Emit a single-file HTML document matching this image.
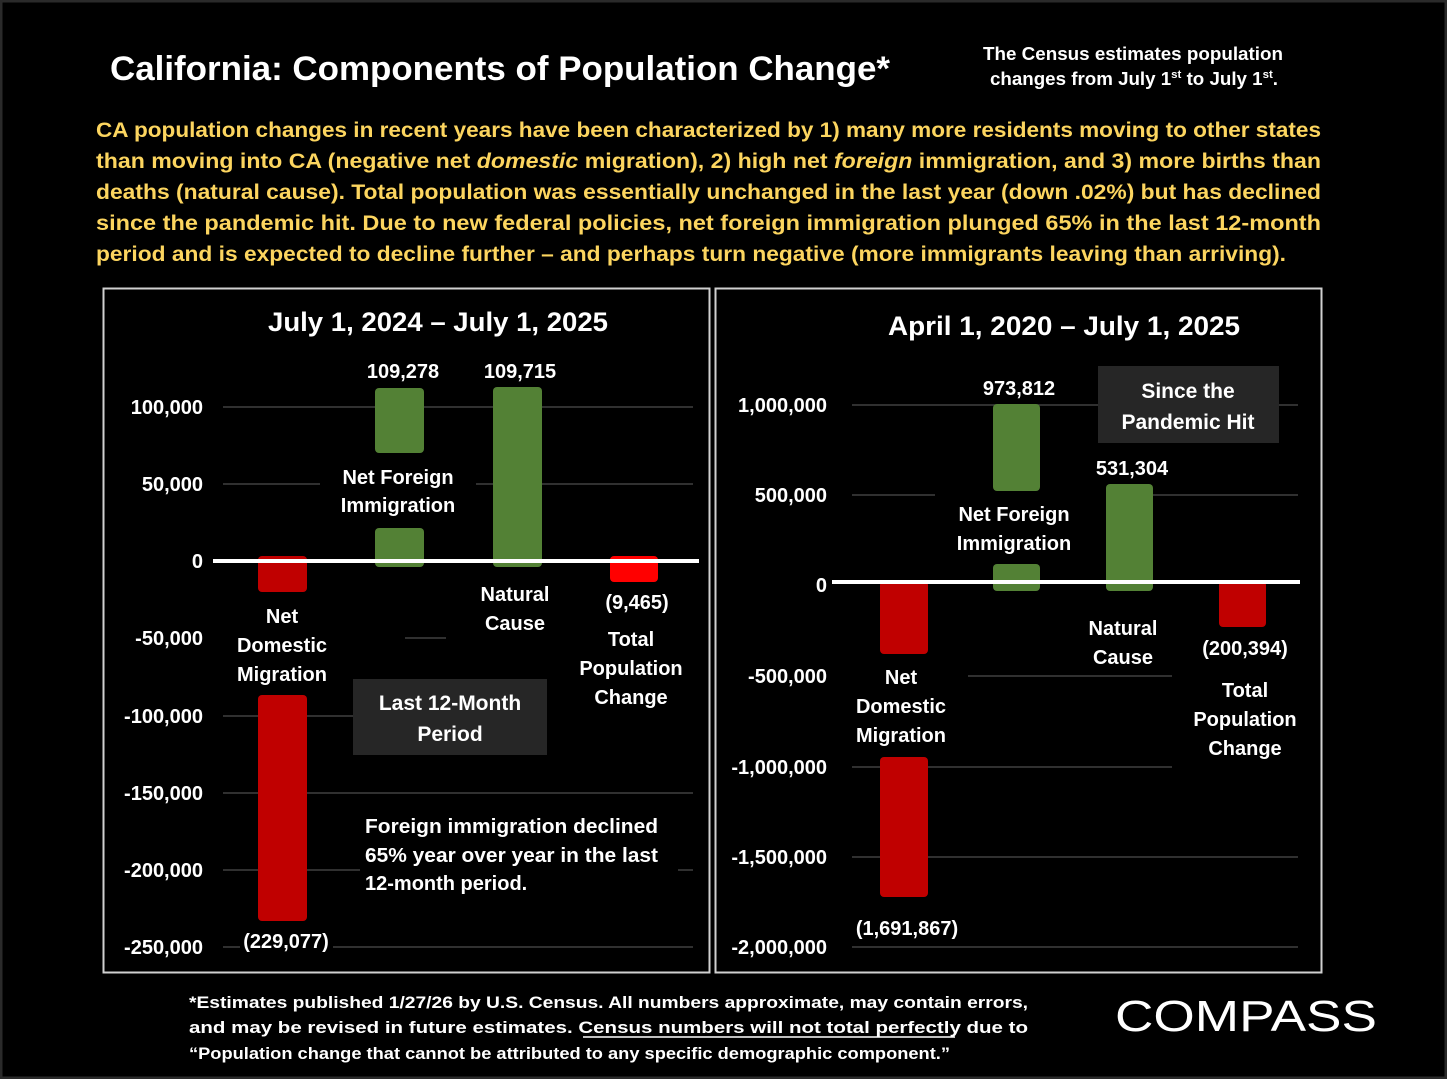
<!DOCTYPE html>
<html><head><meta charset="utf-8"><style>
html,body{margin:0;padding:0;background:#000;}
svg{display:block;}
text{font-family:"Liberation Sans",sans-serif;font-weight:bold;fill:#fff;}
</style></head><body>
<svg width="1447" height="1079" viewBox="0 0 1447 1079" xmlns="http://www.w3.org/2000/svg">
<rect x="0" y="0" width="1447" height="1079" fill="#000"/>
<rect x="1" y="1" width="1445" height="1077" fill="none" stroke="#2a2a2a" stroke-width="3"/>

<text x="110" y="80" font-size="34" textLength="780" lengthAdjust="spacingAndGlyphs">California:  Components of Population Change*</text>
<text x="1133" y="60" font-size="18" text-anchor="middle" textLength="300" lengthAdjust="spacingAndGlyphs">The Census estimates population</text>
<text x="990" y="85" font-size="18" textLength="288" lengthAdjust="spacingAndGlyphs">changes from July 1<tspan font-size="11" dy="-7">st</tspan><tspan dy="7"> to July 1</tspan><tspan font-size="11" dy="-7">st</tspan><tspan dy="7">.</tspan></text>

<g font-size="21" style="fill:#fcd55f">
<text x="96" y="137" style="fill:#fcd55f" textLength="1225" lengthAdjust="spacingAndGlyphs">CA population changes in recent years have been characterized by 1) many more residents moving to other states</text>
<text x="96" y="168" style="fill:#fcd55f" textLength="1225" lengthAdjust="spacingAndGlyphs">than moving into CA (negative net <tspan font-style="italic">domestic</tspan> migration), 2) high net <tspan font-style="italic">foreign</tspan> immigration, and 3) more births than</text>
<text x="96" y="199" style="fill:#fcd55f" textLength="1225" lengthAdjust="spacingAndGlyphs">deaths (natural cause). Total population was essentially unchanged in the last year (down .02%) but has declined</text>
<text x="96" y="230" style="fill:#fcd55f" textLength="1225" lengthAdjust="spacingAndGlyphs">since the pandemic hit. Due to new federal policies, net foreign immigration plunged 65% in the last 12-month</text>
<text x="96" y="261" style="fill:#fcd55f" textLength="1190" lengthAdjust="spacingAndGlyphs">period and is expected to decline further – and perhaps turn negative (more immigrants leaving than arriving).</text>
</g>

<!-- boxes -->
<rect x="103.5" y="288.5" width="606" height="684" fill="none" stroke="#d0d0d0" stroke-width="2"/>
<rect x="715.5" y="288.5" width="606" height="684" fill="none" stroke="#d0d0d0" stroke-width="2"/>

<!-- left gridlines -->
<g stroke="#404040" stroke-width="1.5">
<line x1="223" y1="407" x2="693" y2="407"/>
<line x1="223" y1="484" x2="320" y2="484"/><line x1="476" y1="484" x2="693" y2="484"/>
<line x1="405" y1="638" x2="446" y2="638"/>
<line x1="223" y1="716" x2="353" y2="716"/>
<line x1="223" y1="793" x2="693" y2="793"/>
<line x1="223" y1="870" x2="360" y2="870"/><line x1="678" y1="870" x2="693" y2="870"/>
<line x1="223" y1="947" x2="240" y2="947"/><line x1="333" y1="947" x2="693" y2="947"/>
</g>
<!-- left bars -->
<rect x="258" y="556" width="49" height="36" rx="4" fill="#c00000"/>
<rect x="258" y="695" width="49" height="226" rx="4" fill="#c00000"/>
<rect x="375" y="388" width="49" height="65" rx="4" fill="#538135"/>
<rect x="375" y="528" width="49" height="39" rx="4" fill="#538135"/>
<rect x="493" y="387" width="49" height="180" rx="4" fill="#538135"/>
<rect x="610" y="556" width="48" height="26" rx="4" fill="#ff0000"/>
<line x1="213" y1="561" x2="699" y2="561" stroke="#fff" stroke-width="4"/>

<text x="438" y="331" font-size="27" text-anchor="middle" textLength="340" lengthAdjust="spacingAndGlyphs">July 1, 2024 – July 1, 2025</text>
<g font-size="20" text-anchor="end">
<text x="203" y="414">100,000</text>
<text x="203" y="491">50,000</text>
<text x="203" y="568">0</text>
<text x="203" y="645">-50,000</text>
<text x="203" y="723">-100,000</text>
<text x="203" y="800">-150,000</text>
<text x="203" y="877">-200,000</text>
<text x="203" y="954">-250,000</text>
</g>
<g font-size="20" text-anchor="middle">
<text x="403" y="378">109,278</text>
<text x="520" y="378">109,715</text>
<text x="398" y="484">Net Foreign</text><text x="398" y="512">Immigration</text>
<text x="515" y="601">Natural</text><text x="515" y="630">Cause</text>
<text x="637" y="609">(9,465)</text>
<text x="631" y="646">Total</text><text x="631" y="675">Population</text><text x="631" y="704">Change</text>
<text x="282" y="623">Net</text><text x="282" y="652">Domestic</text><text x="282" y="681">Migration</text>
<text x="286" y="948">(229,077)</text>
</g>
<rect x="353" y="679" width="194" height="76" fill="#262626"/>
<text x="450" y="710" font-size="21" text-anchor="middle">Last 12-Month</text>
<text x="450" y="741" font-size="21" text-anchor="middle">Period</text>
<g font-size="20">
<text x="365" y="833" textLength="293" lengthAdjust="spacingAndGlyphs">Foreign immigration declined</text>
<text x="365" y="862" textLength="293" lengthAdjust="spacingAndGlyphs">65% year over year in the last</text>
<text x="365" y="890">12-month period.</text>
</g>

<!-- right gridlines -->
<g stroke="#404040" stroke-width="1.5">
<line x1="852" y1="405" x2="1098" y2="405"/><line x1="1279" y1="405" x2="1298" y2="405"/>
<line x1="852" y1="495" x2="935" y2="495"/><line x1="1153" y1="495" x2="1298" y2="495"/>
<line x1="968" y1="676" x2="1172" y2="676"/>
<line x1="852" y1="767" x2="1172" y2="767"/>
<line x1="852" y1="857" x2="1298" y2="857"/>
<line x1="852" y1="947" x2="1298" y2="947"/>
</g>
<rect x="880" y="581" width="48" height="73" rx="4" fill="#c00000"/>
<rect x="880" y="757" width="48" height="140" rx="4" fill="#c00000"/>
<rect x="993" y="404" width="47" height="87" rx="4" fill="#538135"/>
<rect x="993" y="564" width="47" height="27" rx="4" fill="#538135"/>
<rect x="1106" y="484" width="47" height="107" rx="4" fill="#538135"/>
<rect x="1219" y="581" width="47" height="46" rx="4" fill="#c00000"/>
<line x1="832" y1="582" x2="1300" y2="582" stroke="#fff" stroke-width="4"/>

<text x="1064" y="335" font-size="27" text-anchor="middle" textLength="352" lengthAdjust="spacingAndGlyphs">April 1, 2020 – July 1, 2025</text>
<g font-size="20" text-anchor="end">
<text x="827" y="412">1,000,000</text>
<text x="827" y="502">500,000</text>
<text x="827" y="592">0</text>
<text x="827" y="683">-500,000</text>
<text x="827" y="774">-1,000,000</text>
<text x="827" y="864">-1,500,000</text>
<text x="827" y="954">-2,000,000</text>
</g>
<rect x="1098" y="366" width="181" height="77" fill="#262626"/>
<g font-size="20" text-anchor="middle">
<text x="1188" y="398" font-size="21">Since the</text><text x="1188" y="429" font-size="21">Pandemic Hit</text>
<text x="1019" y="395">973,812</text>
<text x="1132" y="475">531,304</text>
<text x="1014" y="521">Net Foreign</text><text x="1014" y="550">Immigration</text>
<text x="1123" y="635">Natural</text><text x="1123" y="664">Cause</text>
<text x="1245" y="655">(200,394)</text>
<text x="1245" y="697">Total</text><text x="1245" y="726">Population</text><text x="1245" y="755">Change</text>
<text x="901" y="684">Net</text><text x="901" y="713">Domestic</text><text x="901" y="742">Migration</text>
<text x="907" y="935">(1,691,867)</text>
</g>

<!-- footer -->
<g font-size="17">
<text x="189" y="1008" textLength="839" lengthAdjust="spacingAndGlyphs">*Estimates published 1/27/26 by U.S. Census. All numbers approximate, may contain errors,</text>
<text x="189" y="1033" textLength="839" lengthAdjust="spacingAndGlyphs">and may be revised in future estimates. Census numbers will not total perfectly due to</text>
<text x="189" y="1059" textLength="761" lengthAdjust="spacingAndGlyphs">“Population change that cannot be attributed to any specific demographic component.”</text>
</g>
<line x1="583" y1="1037" x2="955" y2="1037" stroke="#fff" stroke-width="1.5"/>
<text x="1115" y="1031" font-size="44" font-weight="normal" style="font-weight:normal" textLength="262" lengthAdjust="spacingAndGlyphs">COMPASS</text>
</svg>
</body></html>
